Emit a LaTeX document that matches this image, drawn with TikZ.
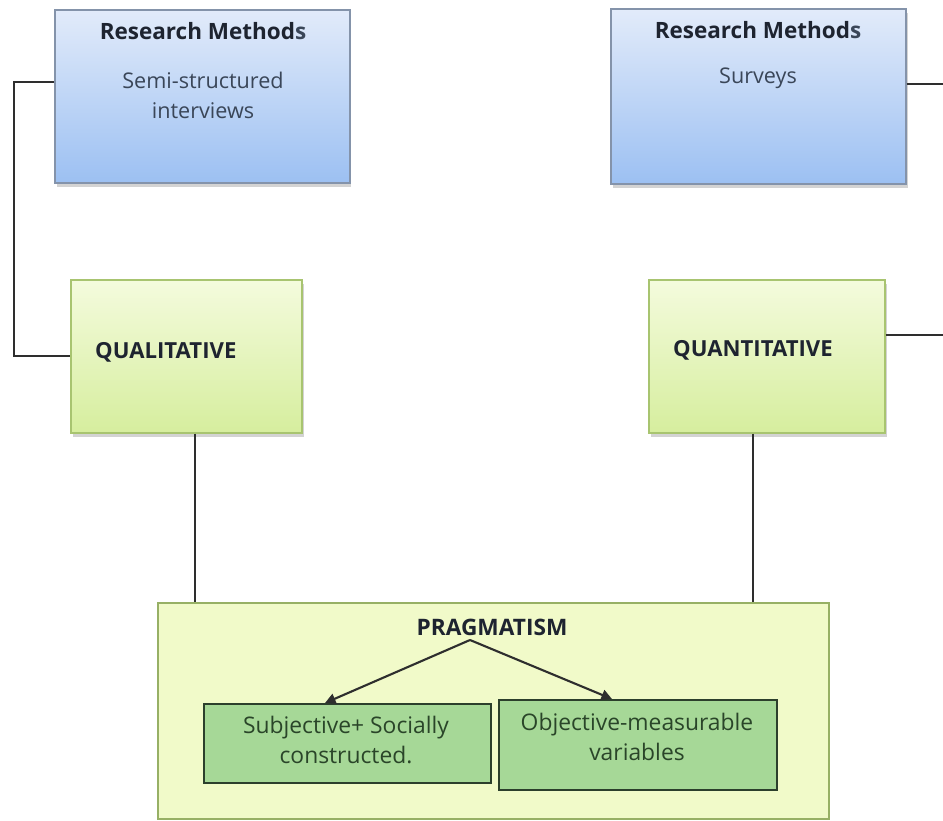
\documentclass[tikz,border=0pt]{standalone}
\usepackage{fontspec}
\setmainfont{Open Sans}
\usetikzlibrary{shadows,calc,arrows.meta}
\definecolor{bluetop}{HTML}{E2EBFA}
\definecolor{bluebot}{HTML}{9CC0F2}
\definecolor{blueline}{HTML}{8493AA}
\definecolor{greentop}{HTML}{F4FBDD}
\definecolor{greenbot}{HTML}{D6EE9E}
\definecolor{greenline}{HTML}{A8C470}
\definecolor{pragfill}{HTML}{F1FAC9}
\definecolor{subfill}{HTML}{A6D897}
\definecolor{subline}{HTML}{2C3F2C}
\definecolor{headtxt}{HTML}{1E2430}
\definecolor{bodytxt}{HTML}{3A4658}
\definecolor{subtxt}{HTML}{2A4529}
\definecolor{wire}{HTML}{2E2E2E}
\tikzset{
  box/.style={rectangle, anchor=north west, inner sep=0pt, line width=0.9pt},
  methodbox/.style={box, draw=blueline, top color=bluetop, bottom color=bluebot,
    drop shadow={opacity=0.35, shadow xshift=1pt, shadow yshift=-2.5pt}},
  paradigmbox/.style={box, draw=greenline, top color=greentop, bottom color=greenbot,
    drop shadow={opacity=0.35, shadow xshift=1pt, shadow yshift=-2.5pt}},
  pragbox/.style={box, draw=greenline!90!black, fill=pragfill, line width=1pt},
  subbox/.style={box, draw=subline, fill=subfill, line width=1pt},
  heading/.style={font=\fontsize{12.8}{15}\selectfont\bfseries, text=headtxt},
  body/.style={font=\fontsize{12.3}{17}\selectfont, text=bodytxt, align=center},
  label/.style={font=\fontsize{12.6}{14}\selectfont\bfseries, text=headtxt, anchor=west},
  subtext/.style={font=\fontsize{13}{17.5}\selectfont, text=subtxt, align=center},
  wireline/.style={draw=wire, line width=1.1pt},
  arr/.style={draw=wire, line width=1.2pt, -{Triangle[width=6pt,length=6pt]}}
}
\begin{document}
\begin{tikzpicture}[x=0.02cm, y=-0.02cm]
\useasboundingbox (0,0) rectangle (943,821);

% research method boxes
\node[methodbox, minimum width=5.9cm, minimum height=3.46cm] (rm1) at (54,9) {};
\node[methodbox, minimum width=5.9cm, minimum height=3.5cm] (rm2) at (610,8) {};
\node[heading] (rm1h) at (203,31) {Research Method{\color{bodytxt}s}};
\node[body] (rm1b) at (203,95) {Semi-structured\\interviews};
\node[heading] (rm2h) at (758,30) {Research Method{\color{bodytxt}s}};
\node[body] (rm2b) at (758,78) {Surveys};

% paradigm boxes
\node[paradigmbox, minimum width=4.62cm, minimum height=3.06cm] (qual) at (70,279) {};
\node[paradigmbox, minimum width=4.72cm, minimum height=3.06cm] (quant) at (648,279) {};
\node[label] (qualt) at (89,352) {QUALITATIVE};
\node[label] (quantt) at (667,350) {QUANTITATIVE};

% pragmatism box and its two sub-boxes
\node[pragbox, minimum width=13.42cm, minimum height=4.32cm] (prag) at (157,602) {};
\node[font=\fontsize{12.9}{14}\selectfont\bfseries, text=headtxt] (pragt) at (492,627) {PRAGMATISM};
\node[subbox, minimum width=5.74cm, minimum height=1.58cm] (subl) at (203,703) {};
\node[subbox, minimum width=5.56cm, minimum height=1.8cm] (subr) at (498,699) {};
\node[subtext] (sublt) at (346,740) {Subjective+ Socially\\constructed.};
\node[subtext] (subrt) at (637,737) {Objective-measurable\\variables};

% connectors
\coordinate (lcorner) at (14,82);
\draw[wireline] (rm1.west |- lcorner) -- (lcorner) |- (qual.west);
\coordinate (redge1) at (943,84);
\coordinate (redge2) at (943,335);
\draw[wireline] (rm2.east |- redge1) -- (redge1);
\draw[wireline] (quant.east |- redge2) -- (redge2);
\coordinate (qualx) at (195,0);
\coordinate (quantx) at (753,0);
\draw[wireline] (qual.south -| qualx) -- (prag.north -| qualx);
\draw[wireline] (quant.south -| quantx) -- (prag.north -| quantx);

% arrows from the pragmatism label
\coordinate (apex) at (470,640);
\coordinate (lx) at (325,0);
\coordinate (rx) at (612,0);
\draw[arr] (apex) -- (subl.north -| lx);
\draw[arr] (apex) -- (subr.north -| rx);
\end{tikzpicture}
\end{document}
